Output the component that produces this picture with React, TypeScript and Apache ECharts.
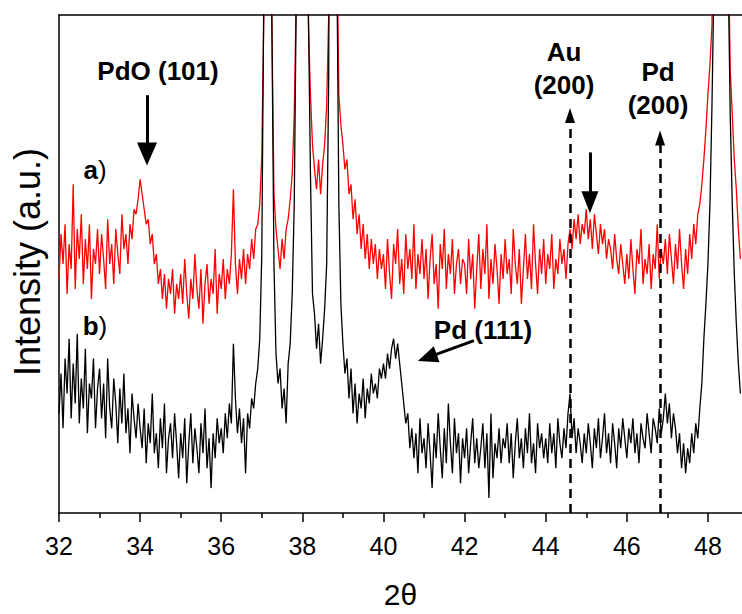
import { useEffect, useRef } from "react";
import * as echarts from "echarts";

// 2θ sampling grid of the two patterns (start and step of the scan)
const TWO_THETA_START = 32;
const TWO_THETA_STEP = 0.05;

// axis
const X_MIN = 32;
const X_MAX = 48.84;
const X_MAJOR = [32, 34, 36, 38, 40, 42, 44, 46, 48];
const X_MINOR = [33, 35, 37, 39, 41, 43, 45, 47];
const Y_MIN = 0;
const Y_MAX = 100;

// pattern a) (red), one row per degree (20 points)
const patternA = [
  47, 56, 50, 58, 44, 54, 49, 66, 45, 57, 51, 60, 46, 55, 49, 58, 43, 53, 50, 57, // 32
  48, 56, 51, 45, 59, 50, 54, 46, 57, 52, 48, 60, 53, 56, 50, 58, 55, 61, 60, 63, // 33
  67, 64, 61, 58, 59, 54, 56, 50, 52, 46, 49, 43, 48, 41, 47, 44, 49, 40, 46, 43, // 34
  48, 42, 51, 44, 39, 47, 43, 52, 45, 41, 49, 38, 46, 50, 42, 47, 44, 53, 40, 48, // 35
  45, 51, 43, 49, 46, 52, 65, 50, 44, 51, 47, 53, 46, 52, 49, 55, 51, 57, 58, 62, // 36
  72, 100, 220, 220, 130, 98, 64, 57, 53, 49, 55, 51, 57, 59, 63, 68, 80, 104, 220, 260, // 37
  260, 230, 150, 98, 84, 74, 69, 65, 71, 64, 70, 74, 82, 100, 220, 260, 240, 118, 84, 78, // 38
  74, 69, 71, 64, 66, 59, 63, 56, 60, 53, 58, 51, 56, 49, 55, 50, 54, 47, 53, 49, // 39
  52, 45, 55, 48, 43, 54, 50, 57, 46, 51, 44, 56, 49, 53, 47, 58, 45, 52, 48, 55, // 40
  47, 53, 43, 51, 56, 46, 50, 41, 54, 49, 57, 45, 52, 48, 55, 44, 50, 53, 46, 51, // 41
  50, 44, 55, 47, 52, 41, 49, 56, 45, 53, 48, 58, 43, 51, 46, 54, 49, 42, 52, 47, // 42
  55, 48, 51, 44, 57, 50, 46, 53, 42, 49, 56, 47, 52, 45, 58, 50, 44, 53, 48, 55, // 43
  46, 52, 49, 56, 45, 51, 48, 55, 50, 53, 47, 54, 57, 53, 59, 55, 60, 54, 58, 56, // 44
  61, 55, 59, 53, 60, 56, 52, 58, 54, 57, 51, 55, 53, 49, 56, 51, 48, 54, 50, 46, // 45
  52, 47, 55, 49, 44, 53, 50, 57, 46, 51, 48, 54, 45, 52, 49, 58, 47, 53, 50, 55, // 46
  48, 56, 51, 46, 54, 49, 57, 50, 45, 53, 48, 56, 51, 58, 54, 60, 62, 66, 71, 77, // 47
  84, 90, 98, 200, 270, 290, 300, 290, 260, 190, 115, 89, 80, 71, 65, 57, 51, // 48
];

// pattern b) (black)
const patternB = [
  20, 28, 17, 31, 24, 35, 19, 30, 22, 36, 18, 27, 21, 33, 16, 26, 23, 31, 17, 25, // 32
  29, 19, 26, 15, 31, 21, 17, 27, 22, 14, 25, 18, 28, 16, 21, 12, 24, 19, 15, 22, // 33
  17, 13, 21, 10, 18, 14, 24, 12, 16, 9, 19, 13, 22, 8, 15, 18, 11, 20, 14, 7, // 34
  16, 11, 19, 6, 14, 20, 10, 17, 13, 8, 18, 12, 21, 9, 15, 5, 16, 11, 19, 14, // 35
  17, 12, 20, 15, 22, 18, 34, 23, 16, 21, 14, 19, 8, 20, 17, 23, 21, 26, 29, 35, // 36
  52, 105, 220, 220, 140, 97, 50, 32, 26, 29, 21, 25, 18, 30, 34, 44, 62, 104, 220, 260, // 37
  260, 230, 150, 100, 68, 44, 40, 33, 38, 30, 35, 41, 50, 88, 220, 260, 240, 112, 62, 42, // 38
  34, 28, 31, 23, 29, 20, 26, 18, 24, 21, 27, 19, 25, 22, 28, 24, 26, 23, 29, 27, // 39
  30, 27, 32, 29, 33, 35, 31, 34, 30, 26, 22, 18, 20, 13, 17, 11, 16, 8, 19, 12, // 40
  15, 9, 18, 12, 5, 16, 11, 20, 13, 7, 17, 10, 22, 14, 8, 19, 12, 16, 6, 15, // 41
  11, 17, 8, 14, 19, 10, 15, 9, 13, 18, 9, 16, 3, 20, 7, 14, 11, 17, 10, 15, // 42
  13, 18, 10, 16, 7, 14, 19, 11, 15, 9, 17, 12, 20, 10, 14, 8, 18, 13, 16, 11, // 43
  15, 10, 18, 12, 16, 9, 19, 14, 11, 17, 13, 20, 24, 15, 19, 12, 17, 14, 10, 16, // 44
  12, 18, 14, 9, 17, 13, 19, 11, 15, 20, 12, 16, 10, 18, 14, 9, 17, 13, 19, 15, // 45
  11, 17, 14, 19, 12, 16, 10, 18, 15, 13, 20, 16, 12, 19, 17, 14, 21, 16, 19, 24, // 46
  18, 22, 15, 20, 17, 12, 16, 9, 14, 8, 13, 10, 16, 12, 18, 15, 21, 26, 35, 42, // 47
  50, 62, 82, 108, 220, 280, 300, 280, 230, 150, 108, 80, 62, 48, 38, 30, 24, // 48
];

// annotation arrows in data coordinates [2θ, intensity]
const SOLID_ARROWS = [
  { from: [34.17, 83.9], to: [34.17, 72.1], head: [20, 23] }, // PdO (101)
  { from: [45.09, 72.4], to: [45.09, 62.4], head: [17, 22] }, // Au (200) bump
  { from: [42.23, 34.6], to: [41.08, 31.2], head: [17, 20] }, // Pd (111)
];
const DASHED_ARROWS = [
  { from: [44.6, 0], to: [44.6, 79.8], head: [10, 15] }, // Au (200)
  { from: [46.82, 0], to: [46.82, 75.3], head: [10, 15] }, // Pd (200)
];

const FONT = '"Liberation Sans", Arial, Helvetica, sans-serif';

function toPairs(values: number[]) {
  return values.map((v, i) => [
    +(TWO_THETA_START + i * TWO_THETA_STEP).toFixed(2),
    v,
  ]);
}

function arrowLines(arrows: any[], dashed: boolean) {
  const ls = {
    color: "#000",
    width: dashed ? 2.5 : 3,
    type: dashed ? [9, 6] : "solid",
  };
  return arrows.map((a) => [
    { coord: a.from, symbol: "none", lineStyle: ls },
    { coord: a.to, symbol: "triangle", symbolSize: a.head, lineStyle: ls },
  ]);
}

export default function App() {
  const ref = useRef<HTMLDivElement>(null);

  useEffect(() => {
    document.body.style.margin = "0";
    const chart = echarts.init(ref.current!, null, { renderer: "svg" });

    const bold = `bold 26px ${FONT}`;
    const option: any = {
      animation: false,
      grid: { left: 59, right: 0, top: 15, bottom: 91, containLabel: false },
      xAxis: [
        {
          type: "value",
          position: "bottom",
          min: X_MIN,
          max: X_MAX,
          interval: 2,
          name: "2θ",
          nameLocation: "middle",
          nameGap: 66,
          nameTextStyle: { fontSize: 30, color: "#000", fontFamily: FONT },
          axisLine: { show: true, onZero: false, lineStyle: { color: "#000", width: 1.5 } },
          axisTick: {
            show: true,
            inside: false,
            length: 9,
            customValues: X_MAJOR,
            lineStyle: { color: "#000", width: 1.5 },
          },
          axisLabel: {
            show: true,
            customValues: X_MAJOR,
            fontSize: 25,
            color: "#000",
            fontFamily: FONT,
            margin: 20,
          },
          splitLine: { show: false },
        },
        {
          type: "value",
          position: "bottom",
          min: X_MIN,
          max: X_MAX,
          axisLine: { show: false, onZero: false },
          axisTick: {
            show: true,
            inside: false,
            length: 5,
            customValues: X_MINOR,
            lineStyle: { color: "#000", width: 1.5 },
          },
          axisLabel: { show: false },
          splitLine: { show: false },
        },
        {
          type: "value",
          position: "top",
          min: X_MIN,
          max: X_MAX,
          axisLine: { show: true, onZero: false, lineStyle: { color: "#000", width: 1.5 } },
          axisTick: { show: false },
          axisLabel: { show: false },
          splitLine: { show: false },
        },
      ],
      yAxis: {
        type: "value",
        min: Y_MIN,
        max: Y_MAX,
        axisLine: { show: true, onZero: false, lineStyle: { color: "#000", width: 1.5 } },
        axisTick: { show: false },
        axisLabel: { show: false },
        splitLine: { show: false },
      },
      series: [
        {
          name: "a)",
          type: "line",
          xAxisIndex: 0,
          data: toPairs(patternA),
          showSymbol: false,
          symbol: "none",
          clip: true,
          lineStyle: { color: "#ff0000", width: 1.3 },
          itemStyle: { color: "#ff0000" },
        },
        {
          name: "b)",
          type: "line",
          xAxisIndex: 0,
          data: toPairs(patternB),
          showSymbol: false,
          symbol: "none",
          clip: true,
          lineStyle: { color: "#000", width: 1.3 },
          itemStyle: { color: "#000" },
          markLine: {
            silent: true,
            animation: false,
            label: { show: false },
            emphasis: { disabled: true },
            symbol: ["none", "triangle"],
            itemStyle: { color: "#000" },
            data: [...arrowLines(SOLID_ARROWS, false), ...arrowLines(DASHED_ARROWS, true)],
          },
        },
      ],
      graphic: [
        {
          type: "text",
          x: 27,
          y: 262,
          rotation: Math.PI / 2,
          style: {
            text: "Intensity (a.u.)",
            font: `36px ${FONT}`,
            fill: "#000",
            align: "center",
            verticalAlign: "middle",
          },
        },
        {
          type: "text",
          x: 158,
          y: 71,
          style: { text: "PdO (101)", font: bold, fill: "#000", align: "center", verticalAlign: "middle" },
        },
        {
          type: "text",
          x: 483,
          y: 330,
          style: { text: "Pd (111)", font: bold, fill: "#000", align: "center", verticalAlign: "middle" },
        },
        {
          type: "text",
          x: 564,
          y: 68,
          style: {
            text: "Au\n(200)",
            font: bold,
            lineHeight: 33,
            fill: "#000",
            align: "center",
            verticalAlign: "middle",
          },
        },
        {
          type: "text",
          x: 658,
          y: 88,
          style: {
            text: "Pd\n(200)",
            font: bold,
            lineHeight: 33,
            fill: "#000",
            align: "center",
            verticalAlign: "middle",
          },
        },
        {
          type: "text",
          x: 95,
          y: 170,
          style: {
            text: "{b|a}{n|)}",
            align: "center",
            verticalAlign: "middle",
            rich: {
              b: { font: bold, fill: "#000" },
              n: { font: `26px ${FONT}`, fill: "#000" },
            },
          },
        },
        {
          type: "text",
          x: 95,
          y: 326,
          style: {
            text: "{b|b}{n|)}",
            align: "center",
            verticalAlign: "middle",
            rich: {
              b: { font: bold, fill: "#000" },
              n: { font: `26px ${FONT}`, fill: "#000" },
            },
          },
        },
      ],
    };

    chart.setOption(option);
    return () => chart.dispose();
  }, []);

  return <div ref={ref} style={{ width: 742, height: 614 }} />;
}
